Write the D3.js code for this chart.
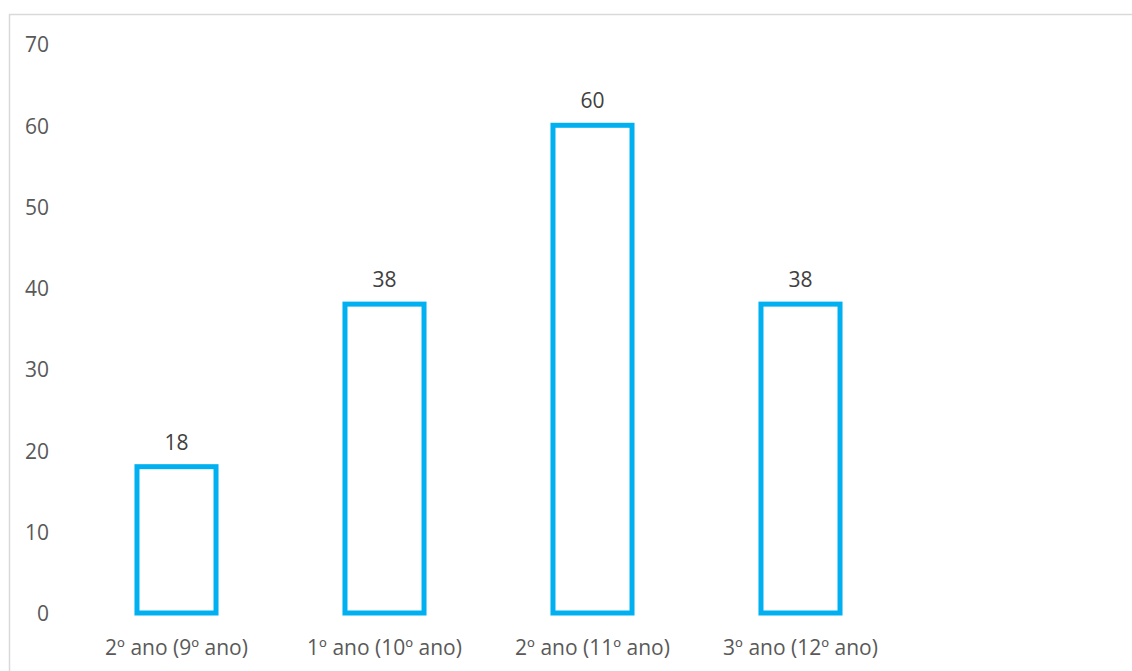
<!DOCTYPE html>
<html>
<head>
<meta charset="utf-8">
<script src="https://cdn.jsdelivr.net/npm/d3@7"></script>
<style>
  html, body { margin: 0; padding: 0; background: #fff; }
  svg { display: block; }
  text { font-family: "Open Sans", "Liberation Sans", sans-serif; }
</style>
</head>
<body>
<svg id="chart" width="1132" height="671"></svg>
<script>
const categories = ["2º ano (9º ano)", "1º ano (10º ano)", "2º ano (11º ano)", "3º ano (12º ano)"];
const values = [18, 38, 60, 38];
const yTicks = [0, 10, 20, 30, 40, 50, 60, 70];

const svg = d3.select("#chart");

// chart border
svg.append("rect")
  .attr("x", 9.5).attr("y", 14.5)
  .attr("width", 1140).attr("height", 700)
  .attr("fill", "none").attr("stroke", "#d9d9d9").attr("stroke-width", 1.5);

const y = d3.scaleLinear().domain([0, 70]).range([613, 44]);
const x = d3.scaleBand().domain(categories).range([72.5, 904.5])
  .paddingInner(0.62).paddingOuter(0.31);

// y axis (labels only)
const yAxis = d3.axisLeft(y).tickValues(yTicks).tickSize(0).tickPadding(0);
const gy = svg.append("g").attr("transform", "translate(49,1)").call(yAxis);
gy.select(".domain").remove();
gy.selectAll("text")
  .attr("fill", "#595959")
  .style("font-size", "21px")
  .style("font-family", "'Open Sans', sans-serif");

// x axis (labels only)
const xAxis = d3.axisBottom(x).tickSize(0).tickPadding(0);
const gx = svg.append("g").attr("transform", "translate(0,640)").call(xAxis);
gx.select(".domain").remove();
gx.selectAll("text")
  .attr("fill", "#595959")
  .style("font-size", "21px")
  .style("font-family", "'Open Sans', sans-serif");

// bars
const data = categories.map((c, i) => ({ c, v: values[i] }));
svg.append("g").selectAll("rect")
  .data(data).join("rect")
  .attr("x", d => x(d.c))
  .attr("y", d => y(d.v))
  .attr("width", x.bandwidth())
  .attr("height", d => y(0) - y(d.v))
  .attr("fill", "none")
  .attr("stroke", "#00B0F0")
  .attr("stroke-width", 5);

// data labels
svg.append("g").selectAll("text")
  .data(data).join("text")
  .attr("x", d => x(d.c) + x.bandwidth() / 2)
  .attr("y", d => y(d.v) - 25)
  .attr("text-anchor", "middle")
  .attr("dominant-baseline", "central")
  .attr("fill", "#404040")
  .style("font-size", "21px")
  .text(d => d.v);
</script>
</body>
</html>
